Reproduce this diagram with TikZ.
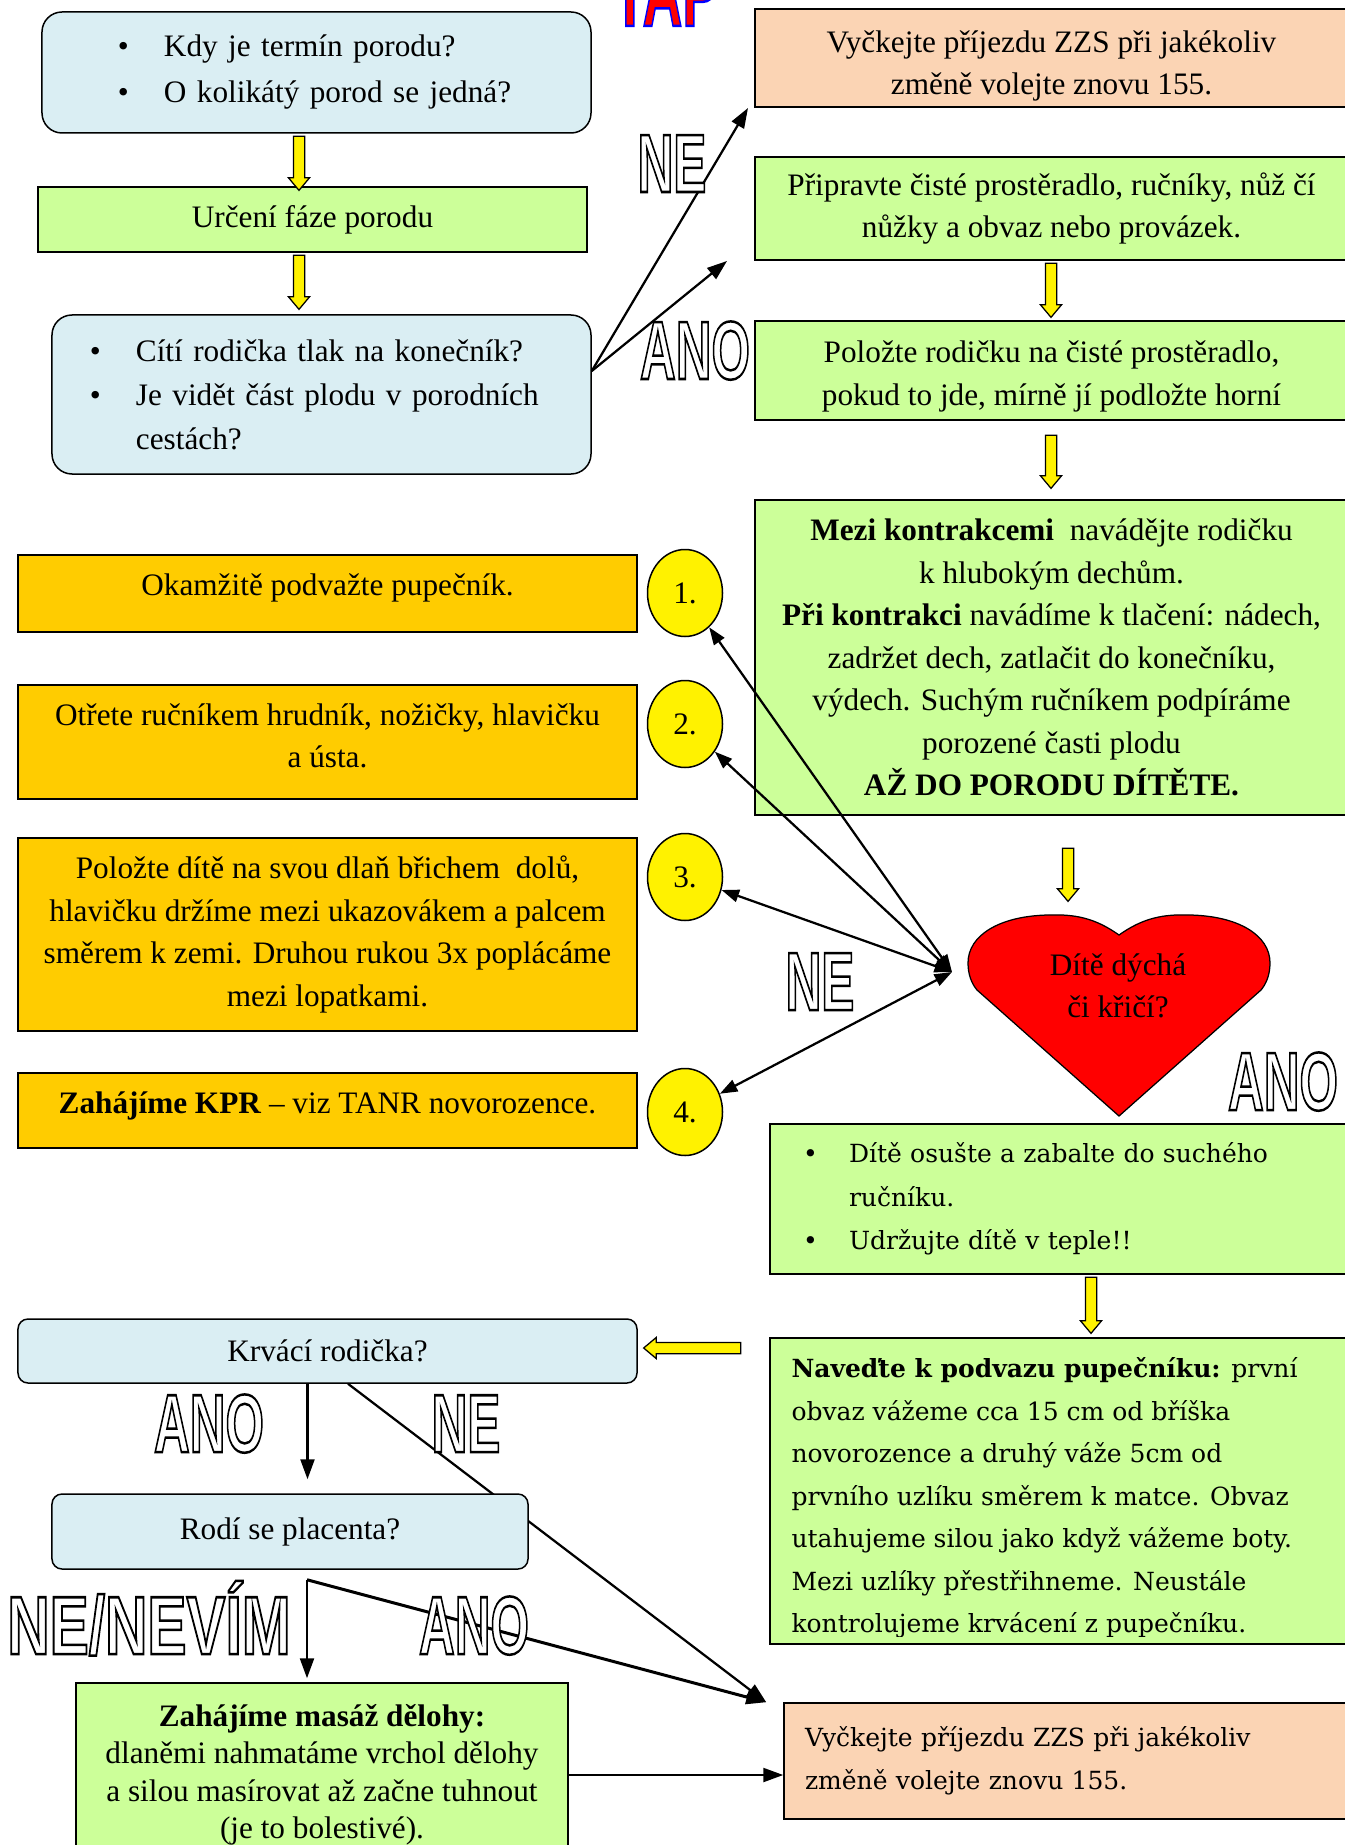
\documentclass[tikz,border=0pt]{standalone}
\usepackage{fontspec}
\usepackage{graphicx}
\setmainfont{Liberation Serif}
\newfontfamily\siroke{DejaVu Serif}
\newfontfamily\nadpis{Liberation Sans}
\usetikzlibrary{shapes.geometric,shapes.arrows,arrows.meta}

\definecolor{modra}{RGB}{218,238,243}
\definecolor{zelena}{RGB}{204,255,153}
\definecolor{oranzova}{RGB}{255,204,0}
\definecolor{broskev}{RGB}{251,212,180}

\newcommand{\obrys}[2][0.6]{\scalebox{#1}[1]{\textcolor{white}{\special{pdf:literal direct 0 G 2 Tr 1 w}#2\special{pdf:literal direct 0 Tr}}}}
\newcommand{\odr}{\makebox[18.4pt][l]{\textbullet}}
\newcommand{\posun}[2]{\raisebox{#1}[\height][\depth]{#2}}

\tikzstyle{dotaz} = [draw, fill=modra, rounded corners=8pt, line width=0.6pt, inner sep=0pt, align=center]
\tikzstyle{krok} = [draw, fill=zelena, line width=0.6pt, inner sep=0pt, align=center]
\tikzstyle{pomoc} = [draw, fill=oranzova, line width=0.6pt, inner sep=0pt, align=center]
\tikzstyle{cekat} = [draw, fill=broskev, line width=0.6pt, inner sep=0pt, align=center]
\tikzstyle{cislo} = [ellipse, draw, fill=yellow, line width=0.6pt, minimum width=30pt, minimum height=34.8pt, inner sep=0pt]
\tikzstyle{sipka} = [single arrow, draw, fill=yellow, line width=0.5pt, inner sep=0pt, text height=2pt, text depth=2pt, single arrow head extend=2pt, single arrow tip angle=80]
\tikzstyle{napis} = [font=\nadpis\bfseries\fontsize{33}{33}\selectfont, inner sep=0pt, anchor=base]
\tikzstyle{cara} = [line width=0.9pt, -{Triangle[length=8pt,width=5.6pt]}]
\tikzstyle{obe} = [line width=0.9pt, {Triangle[length=7pt,width=5pt]}-{Triangle[length=7pt,width=5pt]}]

\begin{document}
\begin{tikzpicture}[x=0.4pt, y=-0.4pt, font=\fontsize{12.5}{17}\selectfont]
\useasboundingbox (0,0) rectangle (1345,1845);
\clip (0,0) rectangle (1345,1845);

\node[napis, font=\nadpis\bfseries\fontsize{40}{40}\selectfont] (tap) at (666,26)
	{\scalebox{0.55}[1]{\textcolor{red}{\special{pdf:literal direct 0 0 1 RG 2 Tr 1 w}TAP\special{pdf:literal direct 0 Tr}}}};

\node[dotaz, minimum width=219.6pt, minimum height=48.4pt, text width=158.8pt, inner xsep=30.4pt, align=left, font=\fontsize{12.5}{18.4}\selectfont] (A) at (316.5,72.5)
	{\odr Kdy je termín porodu?\\\odr O kolikátý porod se jedná?};
\node[krok, minimum width=219.6pt, minimum height=26pt] (B) at (312.5,219.5) {Určení fáze porodu};
\node[dotaz, minimum width=215.6pt, minimum height=63.6pt, text width=185.2pt, inner xsep=15.2pt, align=left, font=\fontsize{12.5}{17.6}\selectfont] (C) at (321.5,394.5)
	{\odr Cítí rodička tlak na konečník?\\\odr Je vidět část plodu v porodních\\\hspace*{18.4pt}cestách?};

\node[cekat, minimum width=237.2pt, minimum height=39.2pt] (D) at (1051.5,58)
	{\posun{-3.2pt}{Vyčkejte příjezdu ZZS při jakékoliv}\\\posun{-3.2pt}{změně volejte znovu 155.}};
\node[krok, minimum width=237.2pt, minimum height=41.2pt] (E) at (1051.5,208.5)
	{Připravte čisté prostěradlo, ručníky, nůž čí\\nůžky a obvaz nebo provázek.};
\node[krok, minimum width=237.2pt, minimum height=39.6pt] (F) at (1051.5,370.5)
	{\posun{-2.4pt}{Položte rodičku na čisté prostěradlo,}\\\posun{-2.4pt}{pokud to jde, mírně jí podložte horní}};
\node[krok, minimum width=237.2pt, minimum height=126pt] (G) at (1051.5,657.5)
	{\textbf{Mezi kontrakcemi}\ \ navádějte rodičku\\k hlubokým dechům.\\\textbf{Při kontrakci} navádíme k tlačení: nádech,\\zadržet dech, zatlačit do konečníku,\\výdech. Suchým ručníkem podpíráme\\porozené časti plodu\\\textbf{AŽ DO PORODU DÍTĚTE.}};

\node[sipka, rotate=-90, minimum height=21.6pt] (zs1) at (299,160) {};
\node[sipka, rotate=-90, minimum height=21.6pt] (zs2) at (299,279) {};
\node[sipka, rotate=-90, minimum height=21.6pt] (zs3) at (1051,287) {};
\node[sipka, rotate=-90, minimum height=21.2pt] (zs4) at (1051,458.5) {};
\node[sipka, rotate=-90, minimum height=21.2pt] (zs5) at (1068,871.5) {};

\coordinate (neKonec) at (748,108);
\coordinate (anoKonec) at (727,261);
\draw[cara] ([yshift=9.4pt]C.east) -- (neKonec);
\draw[cara] ([yshift=9.4pt]C.east) -- (anoKonec);
\node[napis] (ne1) at (672,192) {\obrys{NE}};
\node[napis] (ano1) at (695,379) {\obrys{ANO}};

\node[pomoc, minimum width=247.6pt, minimum height=30.8pt] (o1) at (327.5,593.5) {\posun{2.4pt}{Okamžitě podvažte pupečník.}};
\node[pomoc, minimum width=247.6pt, minimum height=45.6pt] (o2) at (327.5,742)
	{\posun{2.4pt}{Otřete ručníkem hrudník, nožičky, hlavičku}\\\posun{2.4pt}{a ústa.}};
\node[pomoc, minimum width=247.6pt, minimum height=77.2pt] (o3) at (327.5,934.5)
	{Položte dítě na svou dlaň břichem\ \ dolů,\\hlavičku držíme mezi ukazovákem a palcem\\směrem k zemi. Druhou rukou 3x poplácáme\\mezi lopatkami.};
\node[pomoc, minimum width=247.6pt, minimum height=30pt] (o4) at (327.5,1110.5)
	{\posun{2pt}{\textbf{Zahájíme KPR} -- viz TANR novorozence.}};

\foreach \i/\y in {1/593,2/724,3/877,4/1112}
	\node[cislo] (k\i) at (685,\y) {\i.};

\draw[fill=red, line width=0.5pt] (1119,935) .. controls (1095,918) and (1075,914) .. (1048,915)
	.. controls (1000,916) and (968,935) .. (968,963) .. controls (968,975) and (972,984) .. (977,990)
	-- (1119,1116) -- (1261,990) .. controls (1266,984) and (1270,975) .. (1270,963)
	.. controls (1270,935) and (1238,916) .. (1190,915) .. controls (1163,914) and (1143,918) .. cycle;
\node[align=center] (srdce) at (1118,986) {Dítě dýchá\\či křičí?};
\coordinate (srdceL) at (952,972);
\foreach \i in {1,...,4}
	\draw[obe] (srdceL) -- (k\i);
\node[napis] (ne2) at (820,1010) {\obrys{NE}};
\node[napis] (ano2) at (1283,1110) {\obrys{ANO}};

\node[krok, minimum width=231.2pt, minimum height=60pt, text width=204.8pt, inner xsep=13.2pt, align=left, font=\siroke\fontsize{10}{17.4}\selectfont] (H) at (1059,1199)
	{\odr Dítě osušte a zabalte do suchého\\\hspace*{18.4pt}ručníku.\\\odr Udržujte dítě v teple!!};
\node[sipka, rotate=-90, minimum height=22.4pt] (zs6) at (1091,1302) {};

\node[krok, minimum width=231.2pt, minimum height=122.4pt] (I) at (1059,1491) {};
\begin{scope}
\clip (I.north west) rectangle ([yshift=3.2pt]I.south east);
\node[anchor=north west, inner sep=0pt, align=left, font=\siroke\fontsize{10}{17}\selectfont] (Itext) at (791,1357)
	{\textbf{Naveďte k podvazu pupečníku:} první\\obvaz vážeme cca 15 cm od bříška\\novorozence a druhý váže 5cm od\\prvního uzlíku směrem k matce. Obvaz\\utahujeme silou jako když vážeme boty.\\Mezi uzlíky přestřihneme. Neustále\\kontrolujeme krvácení z pupečníku.};
\end{scope}

\node[cekat, minimum width=225.6pt, minimum height=46.4pt, text width=208.8pt, inner xsep=8.4pt, align=left, font=\siroke\fontsize{10}{17}\selectfont] (J) at (1066,1761)
	{Vyčkejte příjezdu ZZS při jakékoliv\\změně volejte znovu 155.};

\node[dotaz, rounded corners=4pt, minimum width=247.6pt, minimum height=25.6pt] (K) at (327.5,1351) {Krvácí rodička?};
\node[sipka, rotate=180, minimum height=38.8pt] (zs7) at (695.5,1348) {};
\draw[cara] ([xshift=8.2pt]K.south) -- ([xshift=-6.8pt]J.north west);

\node[dotaz, rounded corners=4pt, minimum width=190.4pt, minimum height=30pt] (L) at (290,1531.5) {Rodí se placenta?};
\draw[cara, shorten >=5.6pt] ([xshift=-8pt]K.south) -- ([xshift=-8pt]K.south |- L.north);
\node[napis] (ano3) at (209,1452) {\obrys{ANO}};
\node[napis] (ne3) at (466,1452) {\obrys{NE}};

\node[krok, minimum width=196.8pt, minimum height=73.6pt, font=\fontsize{12.5}{15}\selectfont] (M) at (322,1775)
	{\textbf{Zahájíme masáž dělohy:}\\dlaněmi nahmatáme vrchol dělohy\\a silou masírovat až začne tuhnout\\(je to bolestivé).};
\coordinate (rozcesti) at ([xshift=6.8pt,yshift=-4pt]L.south);
\draw[cara, shorten >=1.6pt] (rozcesti) -- (rozcesti |- M.north);
\draw[cara, line width=1.2pt] (rozcesti) -- ([xshift=-6.8pt]J.north west);
\draw[cara] (M.east) -- (M.east -| J.west);
\node[napis] (nevim) at (149,1654) {\obrys[0.71]{NE/NEVÍM}};
\node[napis] (ano4) at (474,1654) {\obrys{ANO}};
\end{tikzpicture}
\end{document}
